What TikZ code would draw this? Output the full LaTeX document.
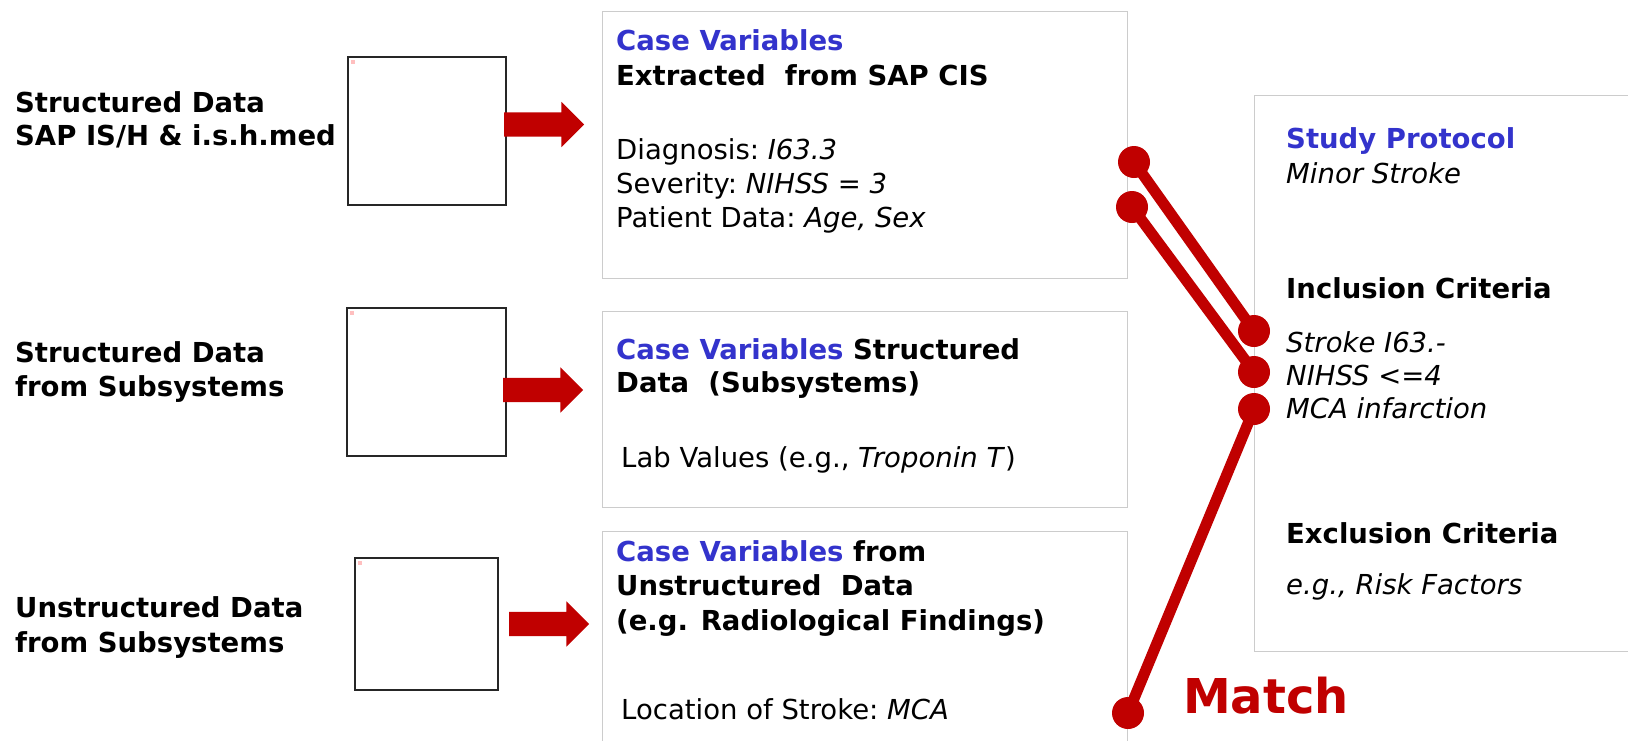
\documentclass[tikz,border=0pt]{standalone}
\usepackage{fontspec}
\setmainfont{DejaVu Sans}
\usetikzlibrary{shapes.arrows}
\definecolor{casevarblue}{RGB}{51,51,204}
\definecolor{matchred}{RGB}{192,0,0}
\definecolor{framegray}{RGB}{204,204,204}
\newcommand{\slidefont}{\fontsize{27.5}{33.5}\selectfont}

\begin{document}
\begin{tikzpicture}[x=1pt, y=-1pt,
    txt/.style={anchor=base west, inner sep=0pt, font=\slidefont},
    head/.style={txt, font=\slidefont\bfseries},
    srcbox/.style={draw=black!85, line width=1.3pt, inner sep=0pt},
    varbox/.style={draw=framegray, line width=1pt, inner sep=0pt},
    feed/.style={single arrow, fill=matchred, inner xsep=0pt, inner ysep=12pt,
        minimum height=80pt, single arrow head extend=10.5pt, single arrow tip angle=90},
    dot/.style={circle, fill=matchred, inner sep=0pt, minimum size=32pt},
    link/.style={matchred, line width=11pt}]
    \useasboundingbox (0,0) rectangle (1628,740);

    % source systems (empty picture frames)
    \node[srcbox, minimum width=158pt, minimum height=148pt] (src1) at (427,131) {};
    \node[srcbox, minimum width=159pt, minimum height=148pt] (src2) at (426.5,382) {};
    \node[srcbox, minimum width=143pt, minimum height=132pt] (src3) at (426.5,624) {};
    \fill[red!25] (351,60) rectangle +(4,4);
    \fill[red!25] (350,311) rectangle +(4,4);
    \fill[red!25] (358,561) rectangle +(4,4);

    \node[head] (src1a) at (15,112) {Structured Data};
    \node[head] (src1b) at (15,145) {SAP IS/H \& i.s.h.med};
    \node[head] (src2a) at (15,362) {Structured Data};
    \node[head] (src2b) at (15,396) {from Subsystems};
    \node[head] (src3a) at (15,617) {Unstructured Data};
    \node[head] (src3b) at (15,652) {from Subsystems};

    % feeding arrows
    \node[feed] (arr1) at (538,124.5) {};
    \node[feed] (arr2) at (537,390) {};
    \node[feed] (arr3) at (543,624) {};

    % case variables
    \node[varbox, minimum width=525pt, minimum height=267pt] (var1) at (864.5,144.5) {};
    \node[varbox, minimum width=525pt, minimum height=196pt] (var2) at (864.5,409) {};
    \node[varbox, minimum width=525pt, minimum height=214pt] (var3) at (864.5,638) {};

    \node[head, casevarblue] (v1a) at (616,50) {Case Variables};
    \node[head] (v1b) at (616,85) {Extracted\ \ from SAP CIS};
    \node[txt] (v1c) at (616,159) {Diagnosis:\ \textit{I63.3}};
    \node[txt] (v1d) at (616,193) {Severity:\ \textit{NIHSS = 3}};
    \node[txt] (v1e) at (616,227) {Patient Data:\ \textit{Age, Sex}};

    \node[head] (v2a) at (616,359) {\textcolor{casevarblue}{Case Variables} Structured};
    \node[head] (v2b) at (616,392) {Data\ \ (Subsystems)};
    \node[txt] (v2c) at (621,467) {Lab Values (e.g., \textit{Troponin T})};

    \node[head] (v3a) at (616,561) {\textcolor{casevarblue}{Case Variables} from};
    \node[head] (v3b) at (616,595) {Unstructured\ \ Data};
    \node[head] (v3c) at (616,630) {(e.g. Radiological Findings)};
    \node[txt] (v3d) at (621,719) {Location of Stroke:\ \textit{MCA}};

    % study protocol
    \node[varbox, minimum width=381pt, minimum height=556pt] (proto) at (1444.5,373) {};
    \node[head, casevarblue] (p1) at (1286,148) {Study Protocol};
    \node[txt] (p2) at (1286,183) {\textit{Minor Stroke}};
    \node[head] (p3) at (1286,298) {Inclusion Criteria};
    \node[txt] (p4) at (1286,352) {\textit{Stroke I63.-}};
    \node[txt] (p5) at (1286,385) {\textit{NIHSS <=4}};
    \node[txt] (p6) at (1286,418) {\textit{MCA infarction}};
    \node[head] (p7) at (1286,543) {Exclusion Criteria};
    \node[txt] (p8) at (1286,594) {\textit{e.g., Risk Factors}};

    % matching
    \node[dot] (dA) at (1134,162) {};
    \node[dot] (dB) at (1132,207) {};
    \node[dot] (dC) at (1254,331) {};
    \node[dot] (dD) at (1254,372) {};
    \node[dot] (dE) at (1254,409) {};
    \node[dot] (dF) at (1128,713) {};
    \draw[link] (dA.center) -- (dC.center);
    \draw[link] (dB.center) -- (dD.center);
    \draw[link] (dE.center) -- (dF.center);

    \node[anchor=base west, inner sep=0pt, font=\fontsize{48}{58}\selectfont\bfseries,
        text=matchred] (match) at (1183,713) {Match};
\end{tikzpicture}
\end{document}
